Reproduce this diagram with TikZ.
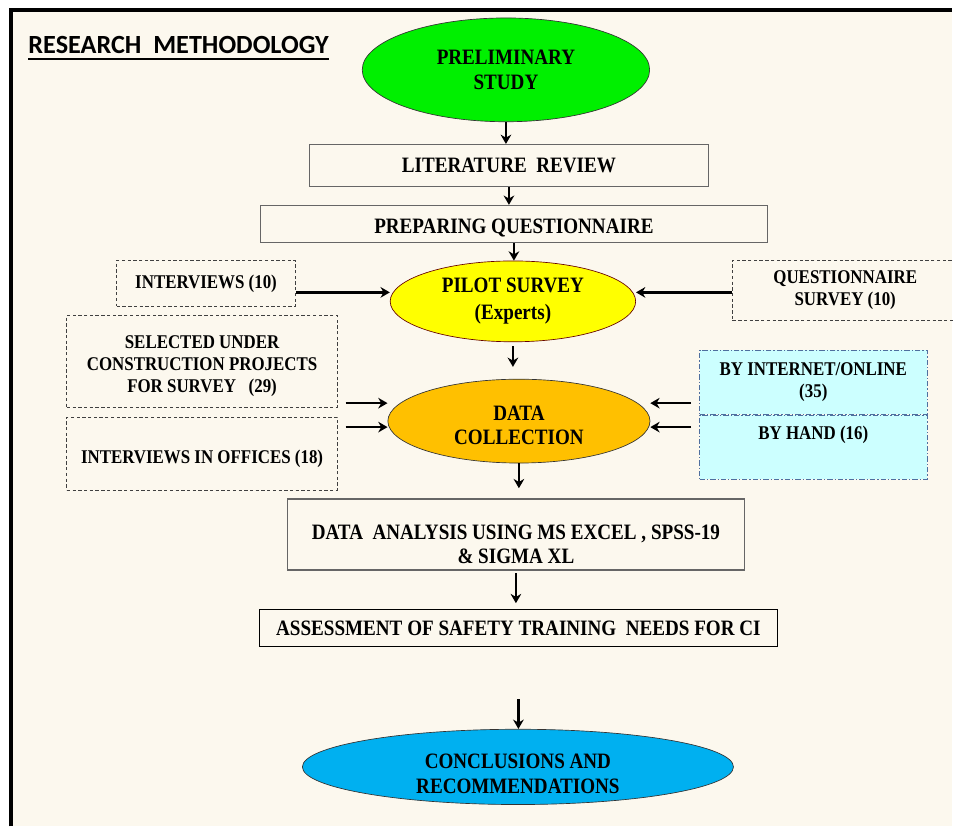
\documentclass[tikz,border=0pt]{standalone}
\usepackage{fontspec}
\setmainfont{Liberation Serif}[FakeStretch=0.87]
\newfontfamily\titlefont{Carlito}
\usepackage{xcolor}
\usetikzlibrary{arrows.meta}
\usetikzlibrary{shapes.geometric}
\usetikzlibrary{positioning}
\definecolor{paper}{HTML}{FCF8EE}
\definecolor{startgreen}{HTML}{00F000}
\definecolor{pilotyellow}{HTML}{FFFF00}
\definecolor{collectorange}{HTML}{FFC000}
\definecolor{endblue}{HTML}{00B0F0}
\definecolor{boxcyan}{HTML}{CCFFFF}
\definecolor{frameblue}{HTML}{4F6F9F}

\begin{document}
\begin{tikzpicture}[x=0.75pt, y=-0.75pt, node distance = .5cm,
		every node/.style={font=\bfseries\fontsize{16.5}{18.5}\selectfont, align=center, inner sep=0pt},
		sidetext/.style={font=\bfseries\fontsize{14.6}{16.5}\selectfont},
		stepbox/.style={draw=black!60, line width=1.1pt, fill=paper},
		dashbox/.style={sidetext, draw=black!75, line width=0.6pt, dash pattern=on 2.5pt off 1.8pt},
		cyanbox/.style={sidetext, draw=frameblue, line width=0.8pt, fill=boxcyan, dash pattern=on 4pt off 1.5pt on 1pt off 1.5pt, minimum width=171pt, minimum height=48pt},
		stage/.style={ellipse, draw=black!80, line width=0.5pt},
		arr/.style={line width=2pt, -{Stealth[length=7pt,width=8pt]}}]
		\fill[white] (0,0) rectangle (954,828);
		\fill[paper] (11,10) rectangle (954,828);
		\draw[line width=3pt] (11,828) -- (11,10) -- (954,10);
		\useasboundingbox (0,0) rectangle (954,828);
	
		\node[font=\titlefont\bfseries\fontsize{19.7}{21}\selectfont](title) at (179,45) {RESEARCH\ \ METHODOLOGY};
		\draw[line width=1.5pt] ([yshift=-3.5pt]title.south west) -- ([yshift=-3.5pt]title.south east);
	
		\node[stage, fill=startgreen, minimum width=216pt, minimum height=78pt](prelim) at (507,70) {PRELIMINARY\\STUDY};
		\node[stepbox, minimum width=300pt, minimum height=31.5pt](litrev) at (510,166) {LITERATURE\ \ REVIEW};
		\node[stepbox, minimum width=381pt, minimum height=27.75pt, text height=17.5pt, text depth=3.3pt](prep) at (515,224.5) {PREPARING QUESTIONNAIRE};
		\node[stage, fill=pilotyellow, draw=red!40!black, minimum width=184.5pt, minimum height=60.75pt](pilot) at (514,302) {PILOT SURVEY\\[2pt](Experts)};
		\node[stage, fill=collectorange, minimum width=197pt, minimum height=63pt, text height=35.5pt, text depth=0pt](datacol) at (520,422) {DATA\\COLLECTION};
		\node[stepbox, minimum width=343.5pt, minimum height=53.25pt, text height=44.5pt, text depth=0pt](analysis) at (517,535.5) {DATA\ \ ANALYSIS USING MS EXCEL , SPSS-19\\\& SIGMA XL};
		\node[draw=black, line width=0.8pt, fill=paper, minimum width=389pt, minimum height=27.75pt](assess) at (519.5,629.5) {ASSESSMENT OF SAFETY TRAINING\ \ NEEDS FOR CI};
		\node[stage, fill=endblue, minimum width=324pt, minimum height=54.75pt, text height=40pt, text depth=0pt](concl) at (519,768.5) {CONCLUSIONS AND\\RECOMMENDATIONS};
	
		\node[dashbox, minimum width=134.25pt, minimum height=34.5pt](intv) at (206.5,284) {INTERVIEWS (10)};
		\node[dashbox, minimum width=203.25pt, minimum height=69pt, text height=47pt, text depth=0pt](select) at (202.5,362) {SELECTED UNDER\\CONSTRUCTION PROJECTS\\FOR SURVEY\ \ \ (29)};
		\node[dashbox, minimum width=203.25pt, minimum height=54.75pt, text height=17.5pt, text depth=3.2pt](office) at (202.5,454.5) {INTERVIEWS IN OFFICES (18)};
	
		\node[dashbox, minimum width=169.5pt, minimum height=45pt](quest) at (847,291) {QUESTIONNAIRE\\SURVEY (10)};
		\node[cyanbox](online) at (815,383) {BY INTERNET/ONLINE\\(35)};
		\node[cyanbox, below = 0pt of online, text height=10pt, text depth=22pt](hand) {BY HAND (16)};
	
		\draw[arr] (prelim) -- (prelim |- litrev.north);
		\draw[arr] (litrev) -- (litrev |- prep.north);
		\draw[arr] (prep) -- (prep |- pilot.north);
		\draw[arr, shorten <=3pt, shorten >=9pt] (pilot) -- (pilot |- datacol.north);
		\draw[arr, shorten >=7.5pt] (datacol) -- (datacol |- analysis.north);
		\draw[arr, shorten <=2pt, shorten >=4.5pt] (analysis) -- (analysis |- assess.north);
		\draw[arr, shorten <=39pt] (assess) -- (assess |- concl.north);
	
		\draw[arr] (intv.east |- 0,293) -- (pilot.west |- 0,293);
		\draw[arr] (quest.west |- 0,293) -- (pilot.east |- 0,293);
		\draw[arr, shorten <=6pt] (select.east |- 0,404) -- (datacol.west |- 0,404);
		\draw[arr, shorten <=6pt] (office.east |- 0,428) -- (datacol.west |- 0,428);
		\draw[arr, shorten <=6pt] (online.west |- 0,404) -- (datacol.east |- 0,404);
		\draw[arr, shorten <=6pt] (hand.west |- 0,428) -- (datacol.east |- 0,428);
	
\end{tikzpicture}
\end{document}
